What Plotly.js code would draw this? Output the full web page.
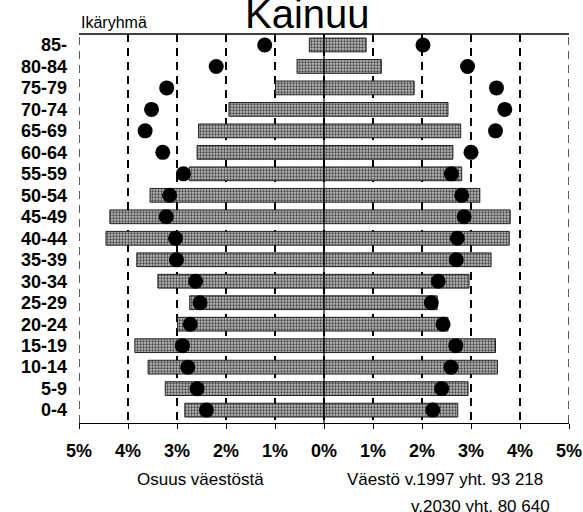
<!DOCTYPE html>
<html><head><meta charset="utf-8">
<script src="https://cdn.plot.ly/plotly-3.0.1.min.js"></script>
<style>body{margin:0;background:#fff}#c{width:583px;height:512px}</style>
</head><body><div id="c"></div>
<script>
const categories = ["0-4","5-9","10-14","15-19","20-24","25-29","30-34","35-39","40-44","45-49","50-54","55-59","60-64","65-69","70-74","75-79","80-84","85-"];
// Share of population (%), 1997 bars
const left1997  = [2.84,3.24,3.59,3.86,2.99,2.74,3.39,3.82,4.45,4.37,3.55,2.75,2.59,2.56,1.94,0.99,0.55,0.30];
const right1997 = [2.73,2.94,3.54,3.50,2.53,2.31,2.96,3.41,3.78,3.80,3.18,2.81,2.63,2.79,2.53,1.84,1.17,0.86];
// 2030 projection (dots)
const left2030  = [2.40,2.59,2.78,2.89,2.73,2.53,2.62,3.01,3.03,3.22,3.15,2.87,3.29,3.65,3.52,3.21,2.20,1.21];
const right2030 = [2.22,2.40,2.59,2.69,2.43,2.19,2.33,2.70,2.72,2.86,2.81,2.60,3.00,3.50,3.69,3.52,2.93,2.02];
const tickVals = [-5,-4,-3,-2,-1,0,1,2,3,4,5];
const tickText = ["5%","4%","3%","2%","1%","0%","1%","2%","3%","4%","5%"];

const barMarker = {color:"#a8a8a8", line:{color:"#222", width:1},
  pattern:{shape:".", fgcolor:"#444", bgcolor:"#bcbcbc", size:3, solidity:0.45}};
const traces = [
  {type:"bar", orientation:"h", y:categories, x:left1997.map(v=>-v), marker:barMarker, width:0.64, hoverinfo:"skip"},
  {type:"bar", orientation:"h", y:categories, x:right1997, marker:barMarker, width:0.64, hoverinfo:"skip"},
  {type:"scatter", mode:"markers", y:categories, x:left2030.map(v=>-v), marker:{color:"#000", size:15}, hoverinfo:"skip"},
  {type:"scatter", mode:"markers", y:categories, x:right2030, marker:{color:"#000", size:15}, hoverinfo:"skip"}
];
const F = "Liberation Sans, Arial, Helvetica, sans-serif";
const dashLine = (xv)=>({type:"line", xref:"x", yref:"paper", x0:xv, x1:xv, y0:0, y1:1, line:{color:"#000", width:1.3, dash:"8px,6px"}, layer:"below"});
const layout = {
  width:583, height:512, showlegend:false, barmode:"overlay",
  paper_bgcolor:"#fff", plot_bgcolor:"#fff",
  margin:{l:79, r:14, t:34, b:89},
  font:{family:F, color:"#000"},
  title:{text:"Kainuu", font:{family:F, size:40, color:"#000"}, x:0.527, xanchor:"center", y:1.0, yanchor:"top"},
  xaxis:{range:[-5,5], tickvals:tickVals, ticktext:tickText, showgrid:true, gridcolor:"#000", gridwidth:1.3, griddash:"8px,6px",
    zeroline:false, showline:true, linecolor:"#000", linewidth:1, ticks:"outside", ticklen:5, tickcolor:"#000",
    ticklabelstandoff:6, tickfont:{family:F, size:18, weight:"bold"}, fixedrange:true},
  yaxis:{range:[-0.6,17.51], tickmode:"array", tickvals:categories, ticktext:categories,
    showgrid:false, zeroline:false, showline:false, ticks:"", ticklabelstandoff:11,
    tickfont:{family:F, size:18, weight:"bold"}, fixedrange:true},
  shapes:[
    dashLine(-5), dashLine(5),
    {type:"line", xref:"x", yref:"paper", x0:0, x1:0, y0:0, y1:1, line:{color:"#000", width:1.2}, layer:"above"},
    {type:"line", xref:"paper", yref:"paper", x0:0, x1:1, y0:1, y1:1, line:{color:"#000", width:1.3}}
  ],
  annotations:[
    {text:"Ikäryhmä", xref:"paper", yref:"paper", x:0, y:1, xanchor:"left", yanchor:"bottom", yshift:1, showarrow:false, font:{family:F, size:16}},
    {text:"Osuus väestöstä", xref:"x", yref:"paper", x:-2.53, y:0, yshift:-45, xanchor:"center", yanchor:"top", showarrow:false, font:{family:F, size:17}},
    {text:"Väestö v.1997 yht. 93 218", xref:"paper", yref:"paper", x:0.952, y:0, yshift:-45, xanchor:"right", yanchor:"top", showarrow:false, font:{family:F, size:17}},
    {text:"v.2030 yht. 80 640", xref:"paper", yref:"paper", x:0.966, y:0, yshift:-72, xanchor:"right", yanchor:"top", showarrow:false, font:{family:F, size:17}}
  ]
};
Plotly.newPlot("c", traces, layout, {displayModeBar:false, staticPlot:true});
</script></body></html>
